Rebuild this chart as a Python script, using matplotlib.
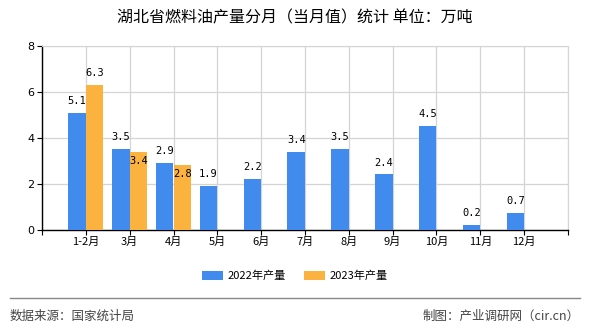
import matplotlib
matplotlib.use("Agg")
import matplotlib.pyplot as plt
import numpy as np

plt.rcParams['font.family'] = ['Noto Sans CJK SC', 'DejaVu Sans']

categories = ["1-2月", "3月", "4月", "5月", "6月", "7月", "8月", "9月", "10月", "11月", "12月"]
values_2022 = [5.1, 3.5, 2.9, 1.9, 2.2, 3.4, 3.5, 2.4, 4.5, 0.2, 0.7]
values_2023 = [6.3, 3.4, 2.8]
series_names = ["2022年产量", "2023年产量"]
title = "湖北省燃料油产量分月（当月值）统计 单位：万吨"
source_text = "数据来源：国家统计局"
credit_text = "制图：产业调研网（cir.cn）"

blue = "#418BEE"
orange = "#FBB23F"

fig = plt.figure(figsize=(5.9, 3.3), dpi=100)
ax = fig.add_axes([42/590, 1-229.5/330, (568-42)/590, (229.5-46)/330])

x = np.arange(len(categories))
w = 0.4
b1 = ax.bar(x[:len(values_2022)] - w/2, values_2022, width=w, color=blue, label=series_names[0], zorder=3)
b2 = ax.bar(x[:len(values_2023)] + w/2, values_2023, width=w, color=orange, label=series_names[1], zorder=3)

mono = ['DejaVu Sans Mono']
for xi, v in zip(x, values_2022):
    ax.annotate(f"{v:.1f}", (xi - w/2, v), xytext=(0, 5), textcoords='offset points',
                ha='center', va='bottom', fontsize=7.5, family=mono, zorder=5)
for i, v in enumerate(values_2023):
    inside = v < values_2022[i]
    ax.annotate(f"{v:.1f}", (x[i] + w/2, v), xytext=(0, -3 if inside else 5), textcoords='offset points',
                ha='center', va='top' if inside else 'bottom', fontsize=7.5, family=mono, zorder=5)

ax.set_xlim(-1, len(categories))
ax.set_ylim(0, 8)
ax.set_xticks(np.arange(-1, len(categories) + 1))
ax.set_xticklabels([""] + categories + [""], fontsize=8)
ax.set_yticks([0, 2, 4, 6, 8])
ax.set_yticklabels(["0", "2", "4", "6", "8"], fontsize=8, family=['DejaVu Sans'])
ax.tick_params(axis='both', direction='out', length=3.5, width=0.8, color='black', pad=2)
ax.grid(True, color='#d4d4d4', linewidth=0.9, zorder=0)
for s in ['top', 'right']:
    ax.spines[s].set_color('#d4d4d4')
for s in ['left', 'bottom']:
    ax.spines[s].set_color('black')
    ax.spines[s].set_linewidth(1.0)
ax.set_axisbelow(True)

fig.text(0.5, 1 - 18/330, title, ha='center', va='center', fontsize=11.5)

fig.legend(handles=[b1, b2], labels=series_names, loc='center', bbox_to_anchor=(0.5, 1 - 276/330),
           ncol=2, frameon=False, fontsize=8, handlelength=1.9, handleheight=0.8,
           columnspacing=1.6, handletextpad=0.4)

fig.add_artist(plt.Line2D([10/590, 580/590], [1 - 298/330, 1 - 298/330], color='#888888', linewidth=1.0))
fig.text(10/590, 1 - 316/330, source_text, ha='left', va='center', fontsize=9, color='#444444')
fig.text(580/590, 1 - 316/330, credit_text, ha='right', va='center', fontsize=9, color='#444444')

fig.savefig("out.png", dpi=100)
